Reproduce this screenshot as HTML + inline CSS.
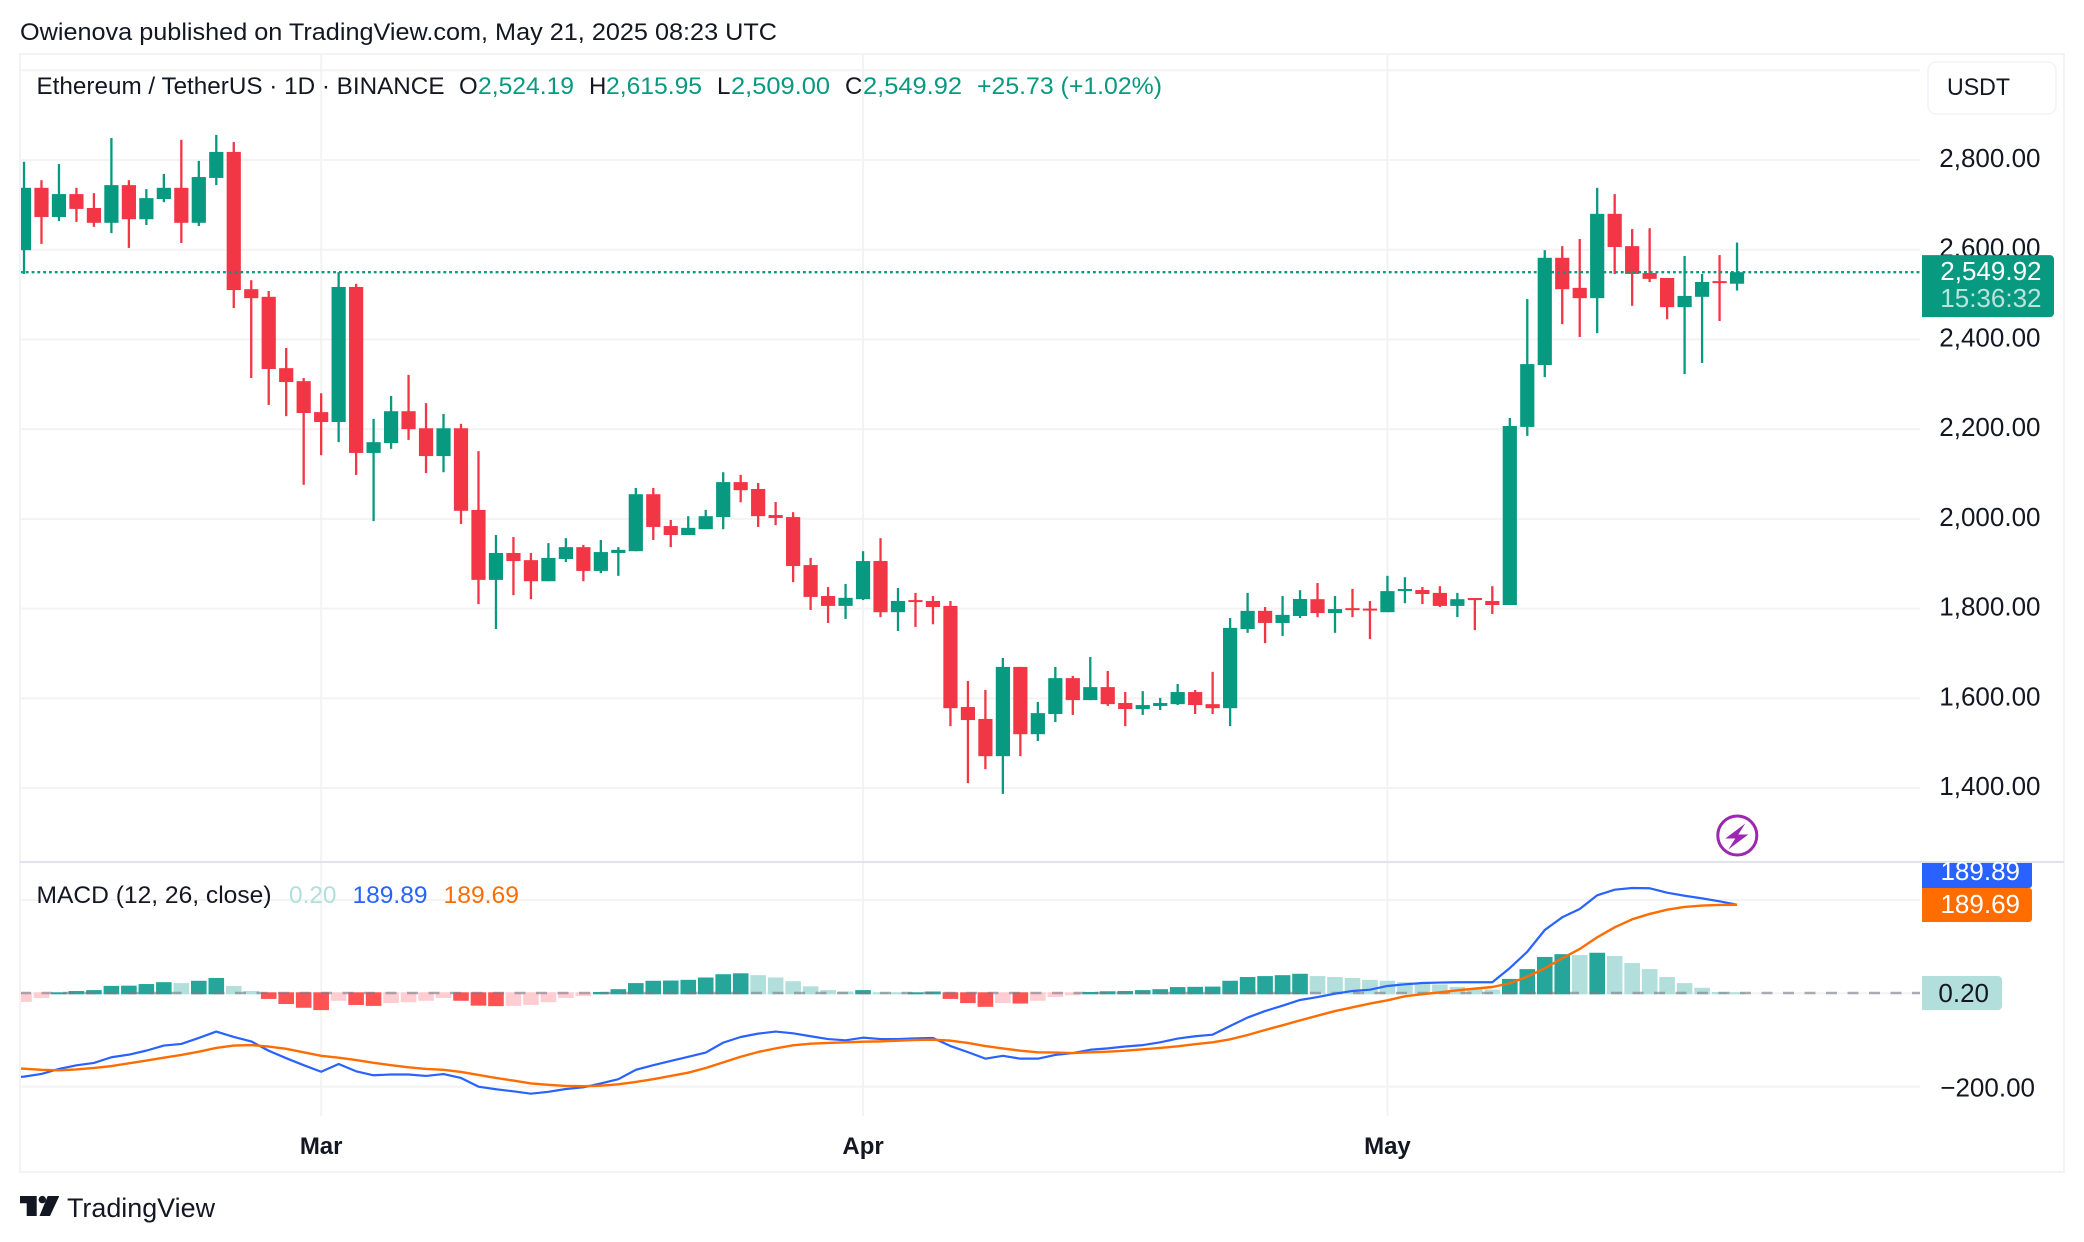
<!DOCTYPE html>
<html lang="en">
<head>
<meta charset="utf-8">
<title>Ethereum / TetherUS chart</title>
<style>
  html, body { margin: 0; padding: 0; background: #fff; }
  #chart { display: block; font-family: "Liberation Sans", sans-serif; }
</style>
</head>
<body>
<svg id="chart" xmlns="http://www.w3.org/2000/svg" width="2084" height="1242" viewBox="0 0 2084 1242">
  <defs>
    <clipPath id="plot-clip"><rect x="20" y="54" width="1900" height="808"/></clipPath>
    <clipPath id="macd-clip"><rect x="20" y="863" width="1900" height="253"/></clipPath>
  </defs>
  <rect x="0" y="0" width="2084" height="1242" fill="#ffffff"/>

  <text x="20" y="40" font-size="24" fill="#131722" textLength="757" lengthAdjust="spacingAndGlyphs">Owienova published on TradingView.com, May 21, 2025 08:23 UTC</text>

  <g id="grid-layer"></g>
  <g id="hist-layer" clip-path="url(#macd-clip)"></g>
  <line x1="20" x2="1920" y1="993" y2="993" stroke="#787b86" stroke-opacity="0.6" stroke-width="2.4" stroke-dasharray="11 10.5"/>
  <g id="macd-layer" clip-path="url(#macd-clip)"></g>
  <g id="candle-layer" clip-path="url(#plot-clip)"></g>
  <g id="axis-layer"></g>

  <rect x="20" y="53" width="2044" height="2" fill="#f2f3f5"/>
  <rect x="19" y="53" width="2" height="1120" fill="#f2f3f5"/>
  <rect x="2063" y="53" width="2" height="1120" fill="#f2f3f5"/>
  <rect x="19" y="1171" width="2046" height="2" fill="#f2f3f5"/>
  <rect x="20" y="861" width="2044" height="2" fill="#e0e3eb"/>

  <g font-size="24">
    <text x="36.5" y="94" fill="#131722" textLength="408" lengthAdjust="spacingAndGlyphs">Ethereum / TetherUS · 1D · BINANCE</text>
    <text x="459" y="94" fill="#131722">O</text>
    <text x="478" y="94" fill="#089981" textLength="96" lengthAdjust="spacingAndGlyphs">2,524.19</text>
    <text x="589" y="94" fill="#131722">H</text>
    <text x="606" y="94" fill="#089981" textLength="96" lengthAdjust="spacingAndGlyphs">2,615.95</text>
    <text x="717" y="94" fill="#131722">L</text>
    <text x="731" y="94" fill="#089981" textLength="99" lengthAdjust="spacingAndGlyphs">2,509.00</text>
    <text x="845" y="94" fill="#131722">C</text>
    <text x="863" y="94" fill="#089981" textLength="99" lengthAdjust="spacingAndGlyphs">2,549.92</text>
    <text x="977" y="94" fill="#089981" textLength="185" lengthAdjust="spacingAndGlyphs">+25.73 (+1.02%)</text>
  </g>

  <g>
    <rect x="1928" y="62" width="128" height="52" rx="8" fill="#ffffff" stroke="#f0f3fa" stroke-width="1.5"/>
    <text x="1947" y="95" font-size="24" fill="#131722" textLength="63" lengthAdjust="spacingAndGlyphs">USDT</text>
  </g>

  <g font-size="24">
    <text x="36.5" y="903" fill="#131722" textLength="235" lengthAdjust="spacingAndGlyphs">MACD (12, 26, close)</text>
    <text x="289" y="903" fill="#b2dfdb" textLength="47.5" lengthAdjust="spacingAndGlyphs">0.20</text>
    <text x="352.5" y="903" fill="#2962ff" textLength="75" lengthAdjust="spacingAndGlyphs">189.89</text>
    <text x="443.5" y="903" fill="#ff6d00" textLength="75.5" lengthAdjust="spacingAndGlyphs">189.69</text>
  </g>

  <g font-size="26">
    <path d="M1922 863H2032V885a3 3 0 0 1 -3 3H1922Z" fill="#2962ff"/>
    <text x="2020" y="880" text-anchor="end" fill="#ffffff">189.89</text>
    <path d="M1922 888H2029a3 3 0 0 1 3 3V919a3 3 0 0 1 -3 3H1922Z" fill="#ff6d00"/>
    <text x="2020" y="913" text-anchor="end" fill="#ffffff">189.69</text>
    <path d="M1922 976H1998a4 4 0 0 1 4 4V1006a4 4 0 0 1 -4 4H1922Z" fill="#b2dfdb"/>
    <text x="1989" y="1002" text-anchor="end" fill="#131722">0.20</text>
  </g>

  <g>
    <circle cx="1737.3" cy="835.5" r="19.5" fill="none" stroke="#9c27b0" stroke-width="3"/>
    <polygon points="1745.3,823.5 1725.3,838.5 1735.3,838.5 1728.3,849.5 1748.3,834.5 1738.3,834.5" fill="#9c27b0"/>
  </g>

  <g>
    <polygon points="20,1196 36.7,1196 36.7,1216 26.7,1216 26.7,1203.3 20,1203.3" fill="#131722"/>
    <circle cx="42.3" cy="1199.6" r="3.7" fill="#131722"/>
    <polygon points="47.7,1196 59.3,1196 50,1216 39.5,1216" fill="#131722"/>
    <text x="67" y="1217" font-size="27" fill="#131722" textLength="148" lengthAdjust="spacingAndGlyphs">TradingView</text>
  </g>
</svg>

<script>
// ---- chart data ----
const opens = [2599,2738,2673,2724,2693,2660,2744,2668,2713,2738,2660,2760,2818,2512,2495,2336,2307,2238,2216,2517,2147,2169,2240,2202,2140,2202,2020,1864,1924,1908,1861,1910.5,1937,1884,1924,1928,2055,1984,1964,1977,2004,2082,2066.6,2008.6,2004,1897,1828,1806,1821,1906,1792,1819,1817,1806,1580.6,1554,1471,1670,1520,1565,1645,1596,1625,1589.5,1576,1583,1587,1614,1587,1578,1754.5,1795,1768,1783.5,1821,1790,1801,1800,1792,1839,1841.5,1835,1806,1823.6,1817,1808,2205,2343,2582,2515,2492,2680,2608,2548,2537,2472,2495,2530,2524.19];
const highs = [2796,2755,2791,2738,2726,2849,2755,2735,2769,2845,2798,2856,2840,2532,2508,2381,2314,2280,2550,2524,2223,2274,2321,2258,2234,2212,2151,1964,1959.5,1924,1946,1957,1942,1953,1937,2069,2069,1997.5,2006,2020,2104,2098,2080,2037.6,2015,1913,1848,1855,1928,1957,1846,1835,1828,1817,1638.5,1618.5,1690,1670,1592,1670,1650,1692,1661,1614,1616,1601,1632,1618.5,1659,1779,1835,1803.5,1828,1841,1857,1828,1844,1817,1873,1870,1848,1850,1835,1823.6,1850,2225,2490,2599,2608,2624,2738,2724,2646,2648,2537,2586,2546,2588,2615.95];
const lows = [2546,2613,2664,2662,2651,2637,2604,2655,2706,2615,2653,2744,2470,2314,2254,2229,2076,2142,2171,2098,1995,2156,2176,2102,2104,1988.5,1810,1754.5,1830,1821,1861,1904,1861,1879,1873,1928,1953,1937,1964,1977,1977,2037,1982,1986,1859,1797,1768,1777,1819,1781,1750,1759,1765,1538,1411,1442,1387,1471,1505,1547,1563,1596,1583,1538,1563,1574,1585,1565,1565,1538,1746,1723,1739,1779,1781,1746,1781,1732,1792,1812,1810,1803.5,1781,1752,1788,1808,2185,2316,2434,2405.4,2414,2546,2475,2528,2445,2323,2347.5,2441,2509];
const closes = [2738,2673,2724,2691,2660,2744,2668,2715,2738,2660,2762,2818,2510,2492,2334,2305,2236,2216,2517,2147,2171,2240,2200,2140,2202,2018,1864,1924,1906,1861,1913,1937,1884,1926,1931,2055,1982,1964,1980,2006,2082,2064,2006,2002,1895,1826,1806,1824,1906,1792,1817,1815,1803.5,1578,1551.6,1471,1670,1520,1567,1645,1596,1625,1587,1576,1585,1589.5,1614,1585,1578,1757,1795,1768,1786,1821.4,1790,1799,1797,1797,1839,1843.7,1832.5,1806,1821,1819,1808,2207,2345,2582,2512,2492,2680,2606,2546,2535,2472,2497,2528,2526,2549.92];
const macdValues = [-178.5,-172.8,-162,-154.2,-149.2,-137,-131.4,-122.8,-112,-108.5,-95.7,-82,-93.5,-103,-123,-139,-154,-168,-151.4,-167,-175.6,-174,-174,-177,-173,-181.4,-200,-205.6,-210,-215,-211,-205,-201.4,-193,-184,-164,-154,-145,-136,-127,-105.7,-93.6,-86.4,-82,-85.7,-92,-98,-100.7,-95,-98,-98,-96.4,-95.7,-113,-126,-140,-134,-140,-140,-132,-128,-121,-118,-114,-111,-105,-97,-92,-88.6,-70,-52,-38,-26.5,-14.3,-8,-0.8,5,7.8,15.7,19.2,22,23,23.6,23.6,23.6,54,89,135.6,162.8,180.6,210,222,225.6,225,215.6,209,203.4,197,189.89];
const signalValues = [-161.4,-164,-165,-163,-160,-156,-150,-144,-138,-132,-125,-117,-112,-111,-114,-119,-126.4,-134,-138,-143,-149,-154,-158.5,-162,-164,-168.5,-175,-181.4,-187,-193,-196,-198.5,-199,-198,-195,-190,-184,-177,-170,-160,-148,-136,-125.7,-118,-111.4,-108,-106.4,-105,-103.6,-103,-101.4,-100,-99.3,-101.4,-106.4,-113,-118,-123,-126.4,-127,-128,-126.4,-125,-123,-120,-117,-113.6,-109,-105,-98.6,-89.3,-78.6,-68.6,-58,-48,-38,-30,-22,-15,-6.5,-2,2,6.4,10,13.5,21.4,35.7,53.5,75,95,120,141.3,158.5,170,179.2,185,188,189.4,189.69];
const histogramValues = [-18.6,-10,3,7,9,18,18.5,22,26,24,29,35,18,7,-12,-23,-31,-36,-16,-25,-27,-21,-19,-16,-10,-16,-26.5,-27.5,-27,-25,-19,-10,-6,5,11,24,29,29.5,31,36,43,45,41,36,28,17,9,6,9,4,3.5,4,6,-12,-21,-29,-21,-22,-16,-8,-4,5,6.5,7,9,11,15.5,16,16.5,29,37,39,41,44,39,37,35,31,29,26,22,21,16,11,10,33,54,80,86,84,89,82,67,54,37,24,14,5,0.2];
const macdBeforeFirstBar = -181;
const signalBeforeFirstBar = -161;
const priceGridValues = [1400,1600,1800,2000,2200,2400,2600,2800,3000];
const priceTickValues = [1400,1600,1800,2000,2200,2400,2600,2800];
const priceTickLabels = ['1,400.00','1,600.00','1,800.00','2,000.00','2,200.00','2,400.00','2,600.00','2,800.00'];
const macdGridValues = [200,0,-200];
const macdTickValues = [-200];
const macdTickLabels = ['\u2212200.00'];
const timeTickLabels = ['Mar','Apr','May'];
const timeTickIndexes = [17,48,78];
const lastPriceText = '2,549.92';
const countdownText = '15:36:32';

// ---- axis functions ----
function xAt(i) { return 24 + i * 17.48; }
function yPrice(p) { return 160 + (2800 - p) * 0.4486; }
function yMacd(v) { return 993.3 - v * 0.4668; }

const SVG_NS = 'http://www.w3.org/2000/svg';
function make(tag, attrs, parent) {
  const el = document.createElementNS(SVG_NS, tag);
  for (const k in attrs) el.setAttribute(k, attrs[k]);
  parent.appendChild(el);
  return el;
}

const GRID = '#f3f3f4';
const UP = '#089981';
const DOWN = '#f23645';

// ---- grid ----
const gridLayer = document.getElementById('grid-layer');
priceGridValues.forEach(function (v) {
  const el = make('rect', { x: 20, y: yPrice(v) - 1, width: 1900, height: 2, fill: GRID }, gridLayer);
  
  
});
macdGridValues.forEach(function (v) {
  const el = make('rect', { x: 20, y: yMacd(v) - 1, width: 1900, height: 2, fill: GRID }, gridLayer);
  
  
});
timeTickIndexes.forEach(function (idx) {
  const el = make('rect', { x: xAt(idx) - 1, y: 54, width: 2, height: 1062, fill: GRID }, gridLayer);
  
  
});

// ---- histogram ----
const histLayer = document.getElementById('hist-layer');
histogramValues.forEach(function (v, i) {
  const prev = i > 0 ? histogramValues[i - 1] : v - 1;
  const rising = v >= prev;
  const fill = v >= 0 ? (rising ? '#26a69a' : '#b2dfdb') : (rising ? '#ffcdd2' : '#ff5252');
  const h = Math.max(Math.abs(yMacd(v) - yMacd(0)), 2);
  const top = v >= 0 ? yMacd(0) + 1 - h : yMacd(0) - 1;
  const el = make('rect', { x: xAt(i) - 7.8, y: top, width: 15.6, height: v >= 0 ? h : h + 1, fill: fill }, histLayer);
  
  
});

// ---- macd lines ----
const macdLayer = document.getElementById('macd-layer');
function linePoints(values, before) {
  const head = xAt(-1).toFixed(2) + ',' + yMacd(before).toFixed(2) + ' ';
  return head + values.map(function (v, i) { return xAt(i).toFixed(2) + ',' + yMacd(v).toFixed(2); }).join(' ');
}
const macdLine = make('polyline', { points: linePoints(macdValues, macdBeforeFirstBar), fill: 'none', stroke: '#2962ff', 'stroke-width': 2.2, 'stroke-linejoin': 'round' }, macdLayer);


const signalLine = make('polyline', { points: linePoints(signalValues, signalBeforeFirstBar), fill: 'none', stroke: '#ff6d00', 'stroke-width': 2.4, 'stroke-linejoin': 'round' }, macdLayer);



// ---- candles ----
const candleLayer = document.getElementById('candle-layer');
closes.forEach(function (c, i) {
  const o = opens[i];
  const color = c >= o ? UP : DOWN;
  const x = xAt(i);
  const wick = make('rect', { x: x - 1.15, y: yPrice(highs[i]), width: 2.3, height: yPrice(lows[i]) - yPrice(highs[i]), fill: color }, candleLayer);
  
  
  const top = yPrice(Math.max(o, c));
  const bottom = yPrice(Math.min(o, c));
  const body = make('rect', { x: x - 7.1, y: top, width: 14.2, height: Math.max(bottom - top, 2), fill: color }, candleLayer);
  
  
});

// ---- axes ----
const axisLayer = document.getElementById('axis-layer');
priceTickValues.forEach(function (v, i) {
  const el = make('text', { x: 2040.5, y: yPrice(v) + 7, 'text-anchor': 'end', 'font-size': 26, fill: '#131722' }, axisLayer);
  
  
  el.textContent = priceTickLabels[i];
});
macdTickValues.forEach(function (v, i) {
  const el = make('text', { x: 2035, y: yMacd(v) + 10, 'text-anchor': 'end', 'font-size': 26, fill: '#131722' }, axisLayer);
  
  
  el.textContent = macdTickLabels[i];
});
timeTickIndexes.forEach(function (idx, i) {
  const el = make('text', { x: xAt(idx), y: 1154, 'text-anchor': 'middle', 'font-size': 24, 'font-weight': 'bold', fill: '#131722' }, axisLayer);
  
  
  el.textContent = timeTickLabels[i];
});

// ---- last price line + badge ----
const lastClose = closes[closes.length - 1];
const lastY = yPrice(lastClose);
const priceLine = make('line', { x1: 20, x2: 1922, y1: lastY, y2: lastY, stroke: UP, 'stroke-width': 2.4, 'stroke-dasharray': '2.8 3' }, axisLayer);


const badge = make('path', { d: 'M1922 ' + (lastY - 17) + 'H2050a4 4 0 0 1 4 4V' + (lastY + 41) + 'a4 4 0 0 1 -4 4H1922Z', fill: UP }, axisLayer);


const badgePrice = make('text', { x: 2041.5, y: lastY + 8, 'text-anchor': 'end', 'font-size': 26, fill: '#ffffff' }, axisLayer);


badgePrice.textContent = lastPriceText;
const badgeTime = make('text', { x: 2041.5, y: lastY + 35, 'text-anchor': 'end', 'font-size': 26, fill: '#ffffff', 'fill-opacity': 0.72 }, axisLayer);


badgeTime.textContent = countdownText;
</script>
</body>
</html>
